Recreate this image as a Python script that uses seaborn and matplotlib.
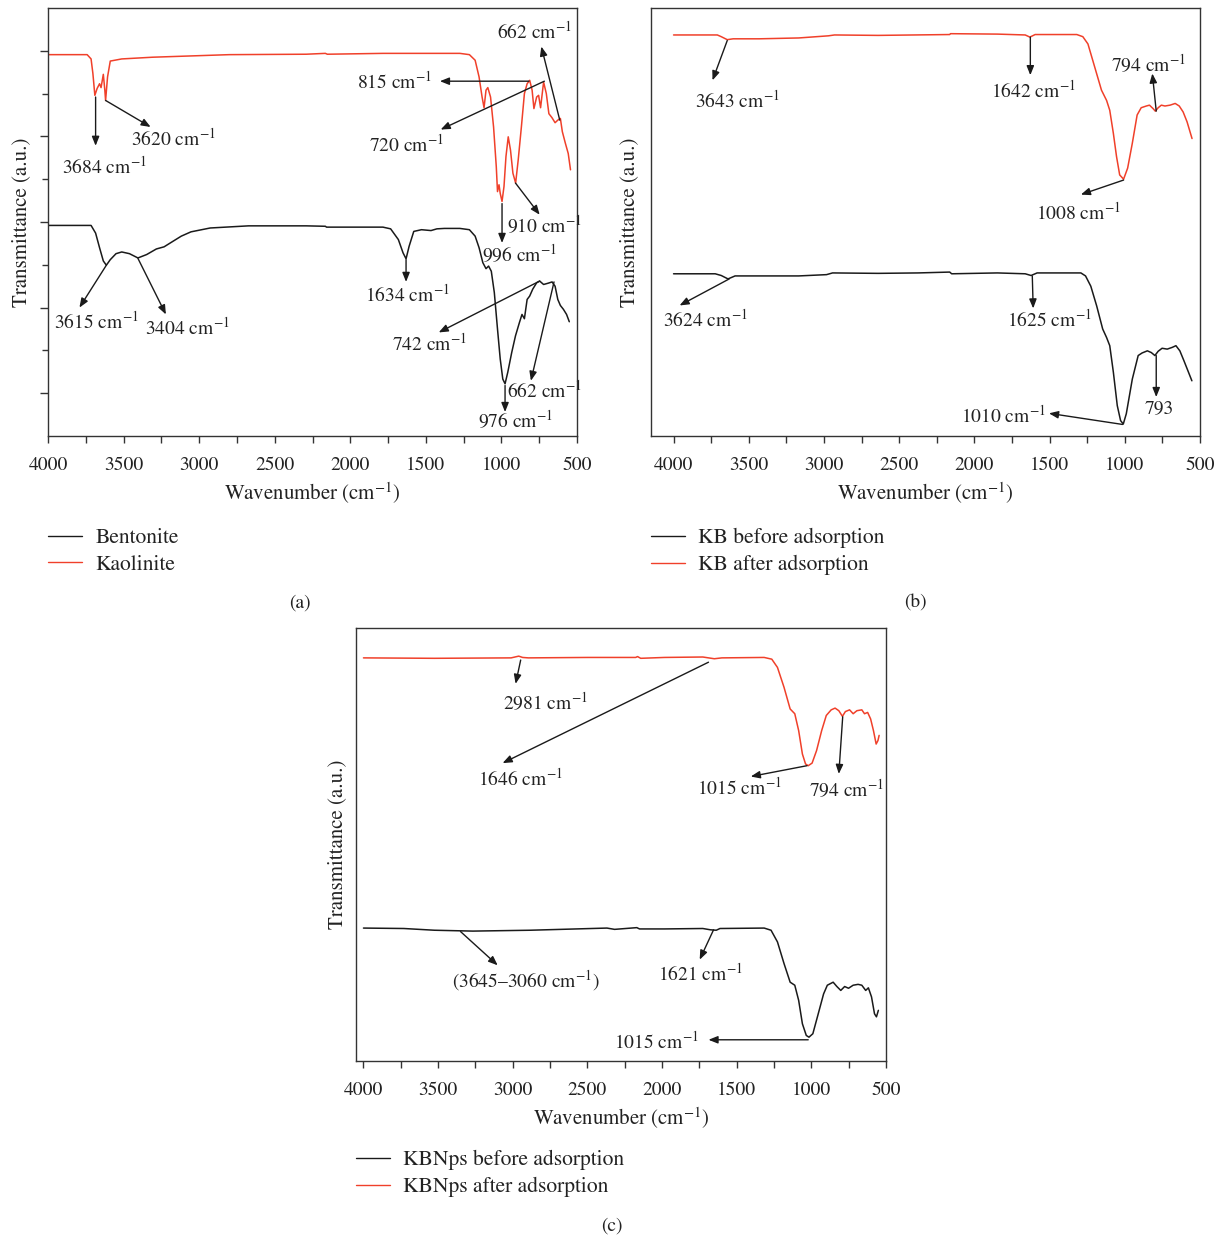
import numpy as np
import pandas as pd
import matplotlib
matplotlib.use("Agg")
import matplotlib.pyplot as plt
import seaborn as sns
from matplotlib.ticker import MultipleLocator, FixedLocator

# ---------------- data (arbitrary offset units) ----------------
kaolinite_wn = [4000, 3741, 3715, 3703, 3690, 3675, 3659, 3649, 3634, 3624, 3619, 3606, 3588, 3512,
                3309, 2800, 2292, 2165, 2152, 1784, 1275, 1212, 1174, 1148, 1128, 1115, 1102, 1090,
                1072, 1052, 1034, 1026, 1016, 1008, 996, 983, 970, 955, 940, 924, 906, 889, 868,
                848, 830, 813, 797, 785, 767, 754, 741, 721, 703, 686, 666, 645, 627, 610, 597,
                577, 558, 543]
kaolinite_t = [8.91, 8.91, 8.81, 8.47, 7.96, 8.12, 8.23, 8.14, 8.45, 8.08, 7.84, 8.39, 8.76, 8.81,
               8.85, 8.91, 8.92, 8.94, 8.92, 8.94, 8.94, 8.91, 8.78, 8.39, 7.92, 7.67, 8.08, 8.14,
               7.92, 7.22, 6.29, 5.71, 5.87, 5.67, 5.48, 5.83, 6.53, 6.99, 6.68, 6.14, 5.91, 6.45,
               7.22, 8.00, 8.23, 8.31, 8.08, 7.65, 7.92, 7.96, 7.67, 8.27, 8.00, 7.53, 7.44, 7.32,
               7.38, 7.42, 7.11, 6.84, 6.60, 6.22]

bentonite_wn = [4000, 3715, 3685, 3659, 3634, 3614, 3588, 3550, 3512, 3461, 3405, 3347, 3283, 3232,
                3182, 3118, 3054, 2927, 2673, 2292, 2165, 2157, 1784, 1733, 1682, 1651, 1631, 1611,
                1580, 1529, 1466, 1427, 1377, 1275, 1212, 1174, 1148, 1123, 1102, 1085, 1067, 1047,
                1026, 1008, 991, 976, 958, 932, 907, 881, 864, 848, 830, 813, 793, 767, 747, 721,
                691, 665, 645, 627, 610, 590, 569, 551]
bentonite_t = [4.92, 4.92, 4.74, 4.40, 4.09, 3.99, 4.12, 4.26, 4.30, 4.26, 4.16, 4.24, 4.37, 4.42,
               4.53, 4.67, 4.77, 4.86, 4.91, 4.91, 4.90, 4.88, 4.88, 4.84, 4.59, 4.28, 4.14, 4.43,
               4.78, 4.82, 4.80, 4.84, 4.85, 4.85, 4.82, 4.67, 4.40, 4.05, 3.91, 3.97, 3.85, 3.35,
               2.50, 1.80, 1.33, 1.22, 1.49, 1.95, 2.34, 2.65, 2.84, 2.74, 3.19, 3.27, 3.43, 3.58,
               3.62, 3.54, 3.57, 3.60, 3.50, 3.19, 3.05, 2.96, 2.84, 2.67]

kb_after_wn = [4000, 3709, 3683, 3643, 3604, 3432, 3168, 2970, 2930, 2640, 2164, 2159, 1847, 1662,
               1631, 1596, 1319, 1279, 1245, 1200, 1155, 1121, 1100, 1076, 1055, 1034, 1008, 981,
               950, 918, 891, 857, 836, 812, 797, 778, 757, 733, 699, 665, 638, 612, 586, 553]
kb_after_t = [9.37, 9.37, 9.33, 9.26, 9.28, 9.28, 9.30, 9.35, 9.37, 9.36, 9.38, 9.40, 9.39, 9.37,
              9.32, 9.38, 9.38, 9.33, 9.16, 8.62, 8.08, 7.84, 7.61, 7.07, 6.53, 6.10, 6.00, 6.26,
              6.84, 7.50, 7.67, 7.71, 7.73, 7.65, 7.59, 7.67, 7.73, 7.71, 7.73, 7.77, 7.71, 7.57,
              7.34, 6.95]

kb_before_wn = [4000, 3723, 3683, 3638, 3591, 3432, 3168, 2983, 2943, 2640, 2375, 2164, 2151, 1847,
                1662, 1623, 1583, 1292, 1261, 1226, 1187, 1147, 1121, 1100, 1076, 1050, 1028, 1010,
                990, 950, 911, 885, 850, 824, 800, 778, 752, 718, 685, 660, 634, 607, 581, 554]
kb_before_t = [3.79, 3.79, 3.75, 3.67, 3.74, 3.74, 3.74, 3.77, 3.81, 3.80, 3.81, 3.83, 3.79, 3.81,
               3.79, 3.75, 3.81, 3.81, 3.74, 3.50, 3.04, 2.50, 2.30, 2.11, 1.49, 0.71, 0.36, 0.28,
               0.52, 1.33, 1.88, 1.94, 1.99, 1.95, 1.88, 1.98, 2.05, 2.03, 2.07, 2.11, 1.99, 1.76,
               1.53, 1.29]

kbnps_after_wn = [4000, 3525, 3011, 2960, 2934, 2896, 2498, 2177, 2164, 2143, 1984, 1727, 1650,
                  1599, 1316, 1265, 1227, 1183, 1142, 1111, 1085, 1060, 1039, 1021, 995, 965, 931,
                  900, 867, 841, 816, 792, 772, 744, 720, 695, 662, 644, 623, 603, 584, 566, 554, 546]
kbnps_after_t = [9.31, 9.30, 9.31, 9.35, 9.32, 9.31, 9.32, 9.32, 9.34, 9.30, 9.32, 9.33, 9.29,
                 9.31, 9.32, 9.28, 9.09, 8.63, 8.13, 8.02, 7.63, 7.09, 6.86, 6.82, 6.88, 7.17, 7.63,
                 7.98, 8.11, 8.15, 8.09, 7.96, 8.07, 8.11, 8.02, 8.09, 8.11, 8.02, 8.05, 7.90, 7.63,
                 7.32, 7.40, 7.52]

kbnps_before_wn = [4000, 3730, 3525, 3268, 2883, 2369, 2318, 2169, 2151, 1984, 1727, 1676, 1637,
                   1612, 1316, 1270, 1227, 1183, 1142, 1111, 1085, 1060, 1034, 1016, 990, 957, 918,
                   893, 854, 829, 803, 777, 751, 720, 687, 662, 636, 618, 597, 577, 564, 551]
kbnps_before_t = [3.07, 3.06, 3.02, 3.00, 3.02, 3.07, 3.04, 3.08, 3.05, 3.05, 3.06, 3.03, 3.02,
                  3.06, 3.07, 3.02, 2.75, 2.25, 1.82, 1.75, 1.40, 0.86, 0.59, 0.55, 0.63, 1.05, 1.55,
                  1.75, 1.82, 1.72, 1.63, 1.72, 1.68, 1.75, 1.77, 1.75, 1.63, 1.69, 1.48, 1.09, 1.02,
                  1.17]

series_names_a = ["Bentonite", "Kaolinite"]
series_names_b = ["KB before adsorption", "KB after adsorption"]
series_names_c = ["KBNps before adsorption", "KBNps after adsorption"]
panel_captions = ["(a)", "(b)", "(c)"]
x_tick_values = [4000, 3500, 3000, 2500, 2000, 1500, 1000, 500]

CM = r" cm$^{-1}$"
# annotations: (label, tail(x,y) on curve, arrow head (x,y), text centre (x,y))
annot_a = [
    ("3684" + CM, (3685, 7.92), (3685, 6.78), (3626, 6.29)),
    ("3620" + CM, (3619, 7.84), (3321, 7.22), (3169, 6.95)),
    ("815" + CM, (818, 8.29), (1407, 8.29), (1707, 8.27)),
    ("720" + CM, (716, 8.29), (1402, 7.16), (1631, 6.82)),
    ("662" + CM, (614, 7.38), (736, 9.10), (780, 9.46)),
    ("910" + CM, (907, 5.91), (747, 5.17), (716, 4.92)),
    ("996" + CM, (996, 5.43), (996, 4.51), (881, 4.26)),
    ("3615" + CM, (3614, 3.99), (3792, 3.00), (3677, 2.67)),
    ("3404" + CM, (3405, 4.15), (3220, 2.84), (3080, 2.53)),
    ("1634" + CM, (1631, 4.12), (1631, 3.60), (1623, 3.31)),
    ("742" + CM, (747, 3.62), (1415, 2.42), (1479, 2.15)),
    ("662" + CM, (652, 3.60), (805, 1.29), (716, 1.06)),
    ("976" + CM, (976, 1.18), (976, 0.56), (907, 0.36)),
]
annot_b = [
    ("3643" + CM, (3643, 9.24), (3741, 8.31), (3577, 7.84)),
    ("1642" + CM, (1628, 9.32), (1628, 8.43), (1610, 8.08)),
    ("794" + CM, (791, 7.59), (817, 8.47), (843, 8.70)),
    ("1008" + CM, (1008, 5.98), (1292, 5.64), (1306, 5.21)),
    ("3624" + CM, (3630, 3.67), (3960, 3.05), (3789, 2.73)),
    ("1625" + CM, (1615, 3.74), (1609, 2.98), (1504, 2.73)),
    ("793", (791, 1.88), (791, 0.91), (770, 0.65)),
    ("1010" + CM, (1015, 0.27), (1504, 0.53), (1808, 0.48)),
]
annot_c = [
    ("2981" + CM, (2947, 9.26), (2981, 8.71), (2780, 8.28)),
    ("1646" + CM, (1689, 9.21), (3068, 6.88), (2947, 6.52)),
    ("1015" + CM, (1029, 6.82), (1406, 6.57), (1483, 6.32)),
    ("794" + CM, (790, 7.95), (816, 6.63), (764, 6.28)),
    (r"(3645–3060 cm$^{-1}$)", (3350, 2.99), (3101, 2.21), (2909, 1.86)),
    ("1621" + CM, (1655, 3.03), (1748, 2.34), (1740, 2.02)),
    ("1015" + CM, (1021, 0.49), (1689, 0.49), (2036, 0.46)),
]

# ---------------- style ----------------
sns.set_style("ticks")
plt.rcParams['font.family'] = ['STIXGeneral', 'DejaVu Serif']
plt.rcParams['mathtext.fontset'] = 'stix'
plt.rcParams['axes.edgecolor'] = '#333333'
plt.rcParams['axes.linewidth'] = 1.0

RED = '#f0402a'
BLACK = '#1a1a1a'
FS = 14
FS_LABEL = 15
FS_LEG = 15.5

W, H = 1223, 1239
fig = plt.figure(figsize=(W / 100, H / 100), dpi=100)


def fig_box(l, t, r, b):
    return [l / W, 1 - b / H, (r - l) / W, (b - t) / H]


def draw_panel(box, xlim, names, data_pairs, annots, show_yticks, ylabel_x, legend_xy):
    ax = fig.add_axes(fig_box(*box))
    frames = []
    for name, (wn, t) in zip(names, data_pairs):
        frames.append(pd.DataFrame({"wn": wn, "t": t, "sample": name}))
    df = pd.concat(frames, ignore_index=True)
    sns.lineplot(data=df, x="wn", y="t", hue="sample", hue_order=names,
                 palette={names[0]: BLACK, names[1]: RED}, sort=False,
                 estimator=None, linewidth=1.1, ax=ax)
    ax.set_xlim(*xlim)
    ax.set_ylim(0, 10)
    ax.xaxis.set_major_locator(FixedLocator(x_tick_values))
    ax.set_xticklabels([str(v) for v in x_tick_values])
    ax.xaxis.set_minor_locator(MultipleLocator(250))
    ax.tick_params(axis='x', which='both', direction='out', length=5, width=1,
                   pad=10, labelsize=FS, colors='#333333', labelcolor='#222222')
    if show_yticks:
        ax.yaxis.set_major_locator(FixedLocator([1, 3, 5, 7, 9]))
        ax.yaxis.set_minor_locator(FixedLocator([2, 4, 6, 8]))
        ax.tick_params(axis='y', which='major', direction='out', length=6, width=1,
                       labelleft=False, colors='#333333')
        ax.tick_params(axis='y', which='minor', direction='out', length=4, width=1,
                       labelleft=False, colors='#333333')
    else:
        ax.set_yticks([])
    for s in ax.spines.values():
        s.set_visible(True)
    ax.set_xlabel(r"Wavenumber (cm$^{-1}$)", fontsize=FS_LABEL, color='#222222')
    ax.set_ylabel("Transmittance (a.u.)", fontsize=FS_LABEL, color='#222222')
    h_px = box[3] - box[1]
    ax.xaxis.set_label_coords(0.5, -45 / h_px)
    ax.yaxis.set_label_coords(ylabel_x, 0.5)

    for label, tail, head, txt in annots:
        ax.annotate('', xy=head, xytext=tail,
                    arrowprops=dict(arrowstyle='-|>,head_length=0.55,head_width=0.22',
                                    color=BLACK, lw=1.0, shrinkA=0, shrinkB=0),
                    annotation_clip=False)
        ax.text(txt[0], txt[1], label, ha='center', va='center', fontsize=FS,
                color='#222222', clip_on=False)

    sns.move_legend(ax, loc='upper left', bbox_to_anchor=legend_xy,
                    bbox_transform=fig.transFigure, frameon=False, title=None,
                    fontsize=FS_LEG, handlelength=1.6, handletextpad=0.6,
                    labelspacing=0.32, borderpad=0, borderaxespad=0)
    leg = ax.get_legend()
    for ln in leg.get_lines():
        ln.set_linewidth(1.0)
    for t in leg.get_texts():
        t.set_color('#222222')
    return ax


draw_panel((48, 8, 577, 436), (4000, 500), series_names_a,
           [(bentonite_wn, bentonite_t), (kaolinite_wn, kaolinite_t)],
           annot_a, True, -0.032, (48 / W, 1 - 528 / H))
draw_panel((651, 8, 1200, 436), (4150, 500), series_names_b,
           [(kb_before_wn, kb_before_t), (kb_after_wn, kb_after_t)],
           annot_b, False, -0.022, (651 / W, 1 - 528 / H))
draw_panel((356, 628, 886, 1061), (4050, 500), series_names_c,
           [(kbnps_before_wn, kbnps_before_t), (kbnps_after_wn, kbnps_after_t)],
           annot_c, False, -0.017, (356 / W, 1 - 1150 / H))

fig.text(300 / W, 1 - 603 / H, panel_captions[0], ha='center', va='center', fontsize=FS, color='#222222')
fig.text(915 / W, 1 - 603 / H, panel_captions[1], ha='center', va='center', fontsize=FS, color='#222222')
fig.text(612 / W, 1 - 1226 / H, panel_captions[2], ha='center', va='center', fontsize=FS, color='#222222')

fig.savefig("out.png", dpi=100)
